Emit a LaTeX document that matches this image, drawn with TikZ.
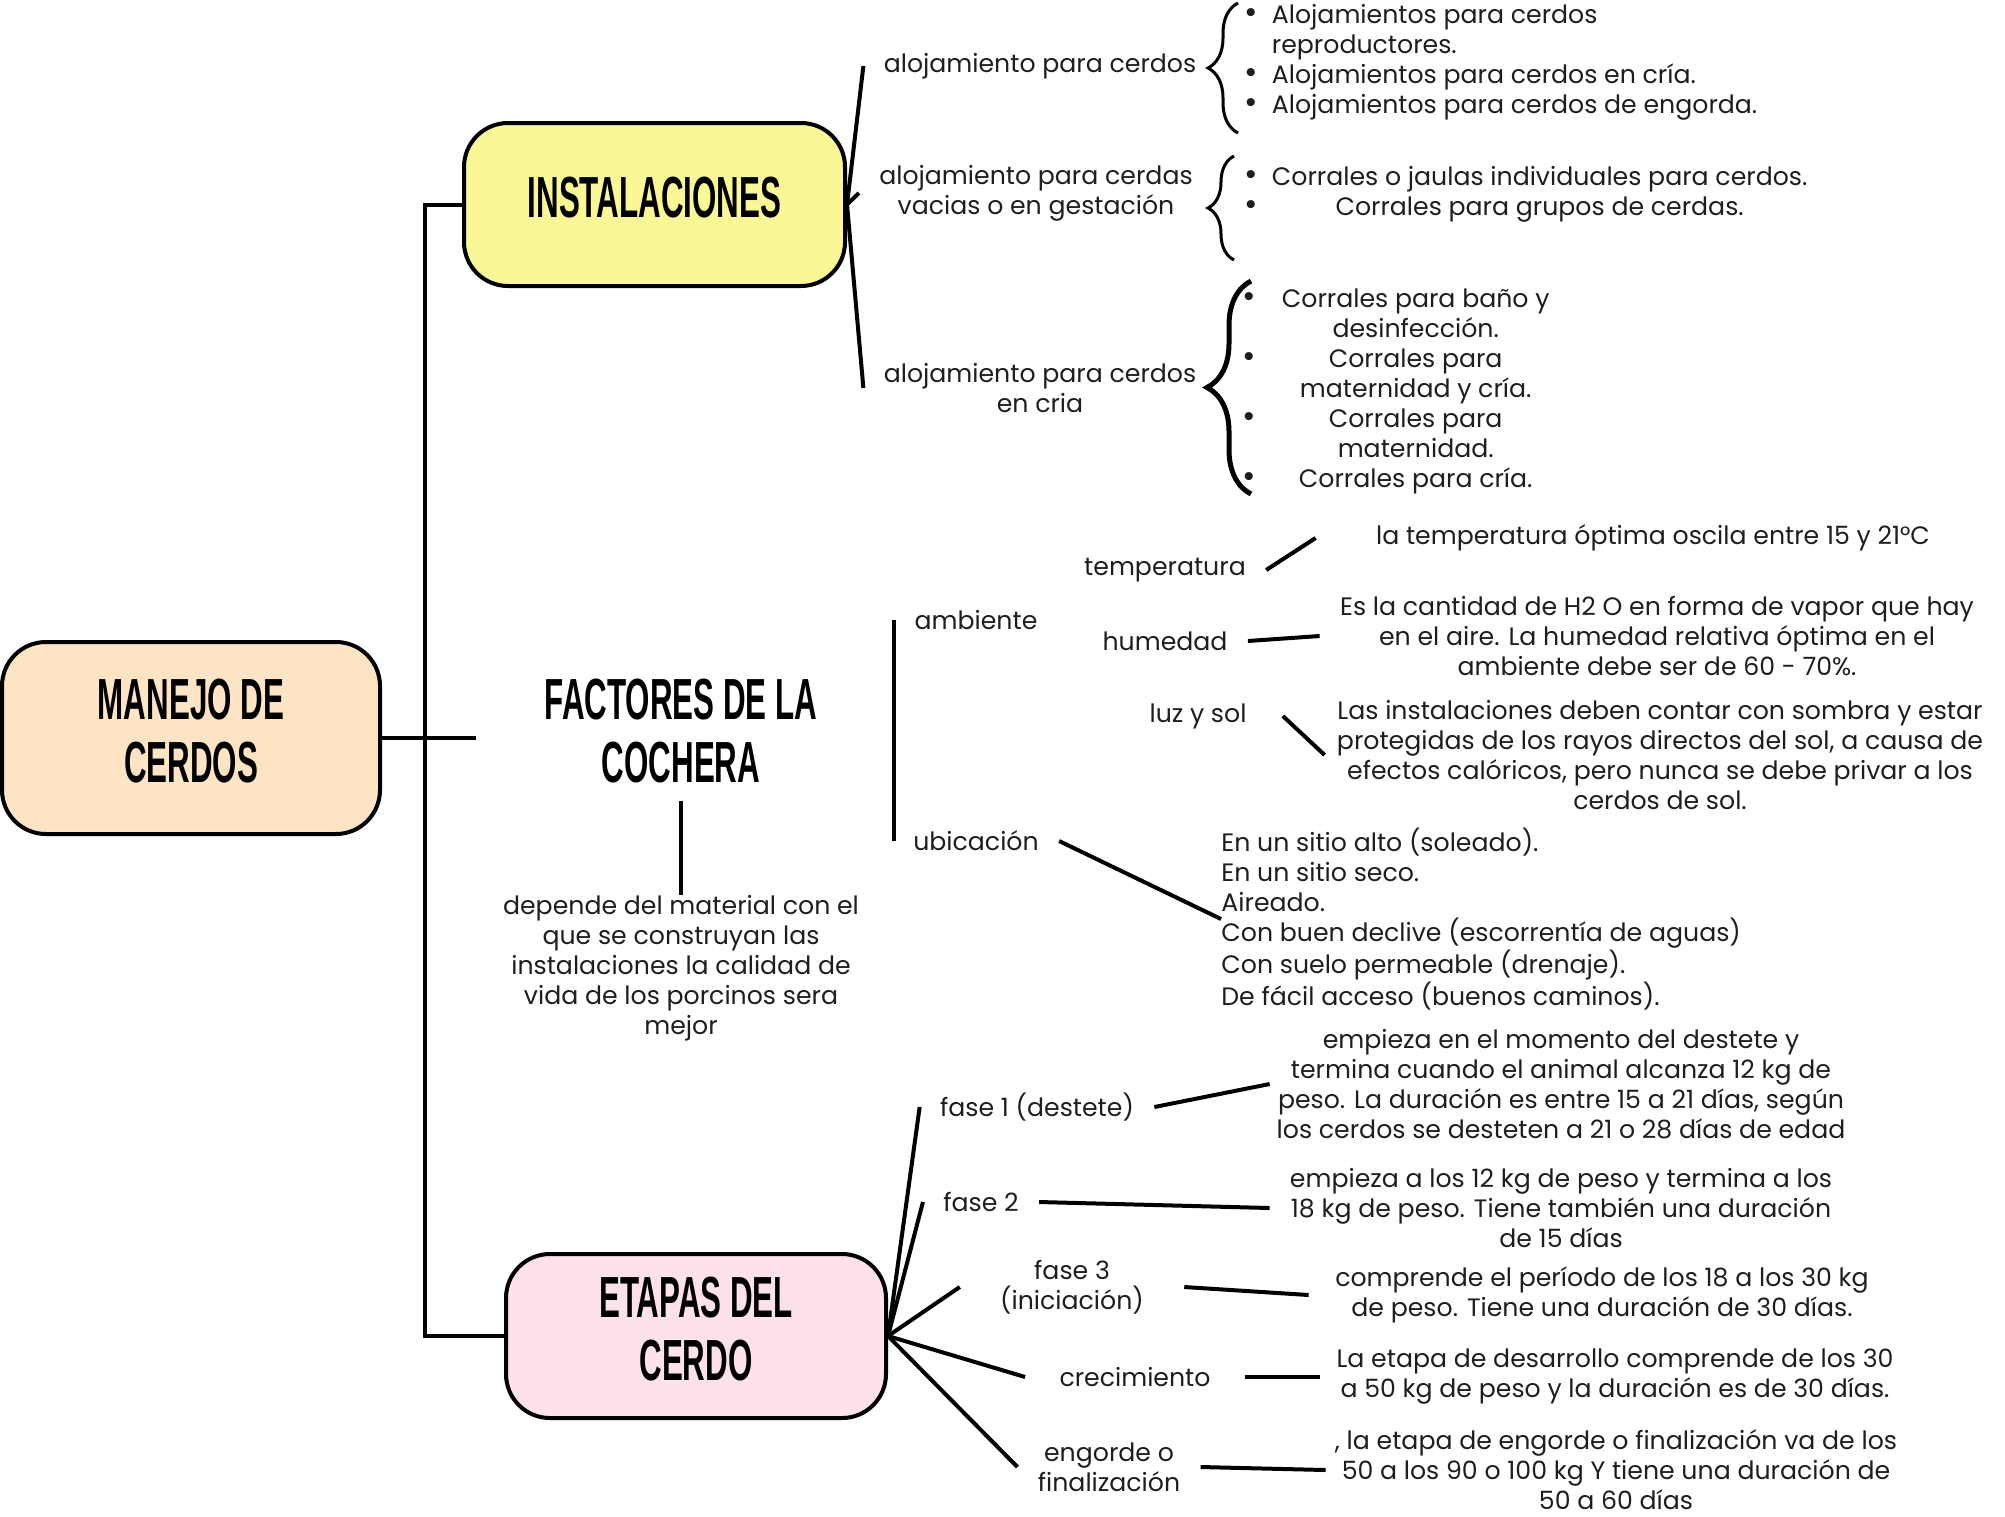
\documentclass[tikz,border=0pt]{standalone}
\usepackage{fontspec}
\setmainfont{Poppins}
\newfontfamily\headfont{Liberation Sans}
\usetikzlibrary{positioning, decorations.pathreplacing}

\definecolor{peach}{HTML}{FDE4C4}
\definecolor{lemon}{HTML}{FAF796}
\definecolor{blush}{HTML}{FDE2EB}
\definecolor{ink}{HTML}{1E1E1E}

\newcommand{\heading}[1]{\scalebox{0.54}[1]{\headfont\bfseries\fontsize{29}{31.5}\selectfont%
  \begin{tabular}{@{}c@{}}#1\end{tabular}}}
\newcommand{\dotitem}{\scalebox{1.3}{\textbullet}}

\begin{document}
\begin{tikzpicture}[
  x=0.5pt, y=-0.5pt,
  topic/.style={draw, line width=2pt, rounded corners=22pt, inner sep=0pt},
  lab/.style={text=ink, font=\fontsize{12.6}{15}\selectfont, align=center, inner xsep=10pt},
  desc/.style={text=ink, font=\fontsize{12.6}{15}\selectfont, align=center, inner sep=0pt},
  itemlist/.style={text=ink, font=\fontsize{12.6}{15}\selectfont, inner sep=0pt, anchor=west},
  link/.style={line width=2pt},
  curly/.style={decorate, decoration={brace, amplitude=#1}, line width=1.5pt}
]
  \useasboundingbox (0,0) rectangle (2005,1516);

  \node[topic, fill=peach, minimum width=189pt, minimum height=96pt] (manejo) at (191,738) {\heading{MANEJO DE\\CERDOS}};
  \node[topic, fill=lemon, minimum width=190.5pt, minimum height=81.5pt] (inst) at (654.5,204.5) {\heading{INSTALACIONES}};
  \node[inner sep=0pt, minimum width=205pt, minimum height=60pt] (fact) at (681,738) {\heading{FACTORES DE LA\\COCHERA}};
  \node[topic, fill=blush, minimum width=190pt, minimum height=82pt] (etapas) at (696,1336) {\heading{ETAPAS DEL\\CERDO}};

  \draw[link] (inst.west) -- ++(-37,0) |- (etapas.west);
  \draw[link] (manejo.east) -- (fact.west);

  \node[desc] (dep) at (681,968) {depende del material con el\\que se construyan las\\instalaciones la calidad de\\vida de los porcinos sera\\mejor};
  \draw[link] (fact.south) -- (dep.north);

  \node[lab] (alo1) at (1040,66) {alojamiento para cerdos};
  \node[lab] (alo2) at (1036,193) {alojamiento para cerdas\\vacias o en gestación};
  \node[lab] (alo3) at (1040,388) {alojamiento para cerdos\\en cria};
  \draw[link] (inst.east) -- (alo1.west);
  \draw[link] (inst.east) -- (alo2.west);
  \draw[link] (inst.east) -- (alo3.west);

  \draw[curly=15pt] (1238,133) -- (1238,3);
  \draw[curly=13pt] (1234,260) -- (1234,156);
  \draw[curly=22pt, line width=2.5pt] (1251,494) -- (1251,281);

  \node[itemlist] (set1) at (1244,62) {\begin{tabular}{@{}l@{\hspace{7pt}}l@{}}
    \dotitem & Alojamientos para cerdos\\
             & reproductores.\\
    \dotitem & Alojamientos para cerdos en cría.\\
    \dotitem & Alojamientos para cerdos de engorda.
  \end{tabular}};
  \node[itemlist] (set2) at (1244,194) {\begin{tabular}{@{}l@{\hspace{7pt}}c@{}}
    \dotitem & Corrales o jaulas individuales para cerdos.\\
    \dotitem & Corrales para grupos de cerdas.
  \end{tabular}};
  \node[itemlist] (set3) at (1242,391) {\begin{tabular}{@{}l@{\hspace{13pt}}c@{}}
    \dotitem & Corrales para baño y\\
             & desinfección.\\
    \dotitem & Corrales para\\
             & maternidad y cría.\\
    \dotitem & Corrales para\\
             & maternidad.\\
    \dotitem & Corrales para cría.
  \end{tabular}};

  \node[lab] (amb) at (976,620) {ambiente};
  \node[lab] (ubi) at (976,841) {ubicación};
  \draw[link] (amb.west) -- (amb.west |- ubi.west);

  \node[lab] (temp) at (1165,570) {temperatura};
  \node[lab] (hum) at (1165,641) {humedad};
  \node[lab, inner xsep=18pt] (luz) at (1198,716) {luz y sol};
  \node[desc, minimum width=337pt] (tempd) at (1653,538) {la temperatura óptima oscila entre 15 y 21°C};
  \node[desc, minimum width=337pt] (humd) at (1657,636) {Es la cantidad de H2 O en forma de vapor que hay\\en el aire. La humedad relativa óptima en el\\ambiente debe ser de 60 - 70\%.};
  \node[desc, minimum width=335pt] (luzd) at (1660,755) {Las instalaciones deben contar con sombra y estar\\protegidas de los rayos directos del sol, a causa de\\efectos calóricos, pero nunca se debe privar a los\\cerdos de sol.};
  \draw[link] (temp.east) -- (tempd.west);
  \draw[link] (hum.east) -- (humd.west);
  \draw[link] (luz.east) -- (luzd.west);

  \node[itemlist, align=left] (ubil) at (1221,919) {En un sitio alto (soleado).\\
    En un sitio seco.\\
    Aireado.\\
    Con buen declive (escorrentía de aguas)\\
    Con suelo permeable (drenaje).\\
    De fácil acceso (buenos caminos).};
  \draw[link] (ubi.east) -- (ubil.west);

  \node[lab] (f1) at (1037,1107) {fase 1 (destete)};
  \node[lab] (f2) at (981,1202) {fase 2};
  \node[lab, inner xsep=20pt] (f3) at (1072,1287) {fase 3\\(iniciación)};
  \node[lab, inner xsep=17pt] (cre) at (1135,1377) {crecimiento};
  \node[lab] (eng) at (1109,1467) {engorde o\\finalización};
  \draw[link] (etapas.east) -- (f1.west);
  \draw[link] (etapas.east) -- (f2.west);
  \draw[link] (etapas.east) -- (f3.west);
  \draw[link] (etapas.east) -- (cre.west);
  \draw[link] (etapas.east) -- (eng.west);

  \node[desc, minimum width=291pt] (f1d) at (1561,1084) {empieza en el momento del destete y\\termina cuando el animal alcanza 12 kg de\\peso. La duración es entre 15 a 21 días, según\\los cerdos se desteten a 21 o 28 días de edad};
  \node[desc, minimum width=291pt] (f2d) at (1561,1208) {empieza a los 12 kg de peso y termina a los\\18 kg de peso. Tiene también una duración\\de 15 días};
  \node[desc, minimum width=293pt] (f3d) at (1602,1295) {comprende el período de los 18 a los 30 kg\\de peso. Tiene una duración de 30 días.};
  \node[desc, minimum width=295pt] (cred) at (1615,1377) {La etapa de desarrollo comprende de los 30\\a 50 kg de peso y la duración es de 30 días.};
  \node[desc, minimum width=290pt] (engd) at (1616,1470) {, la etapa de engorde o finalización va de los\\50 a los 90 o 100 kg Y tiene una duración de\\50 a 60 días};
  \draw[link] (f1.east) -- (f1d.west);
  \draw[link] (f2.east) -- (f2d.west);
  \draw[link] (f3.east) -- (f3d.west);
  \draw[link] (cre.east) -- (cred.west);
  \draw[link] (eng.east) -- (engd.west);
\end{tikzpicture}
\end{document}
